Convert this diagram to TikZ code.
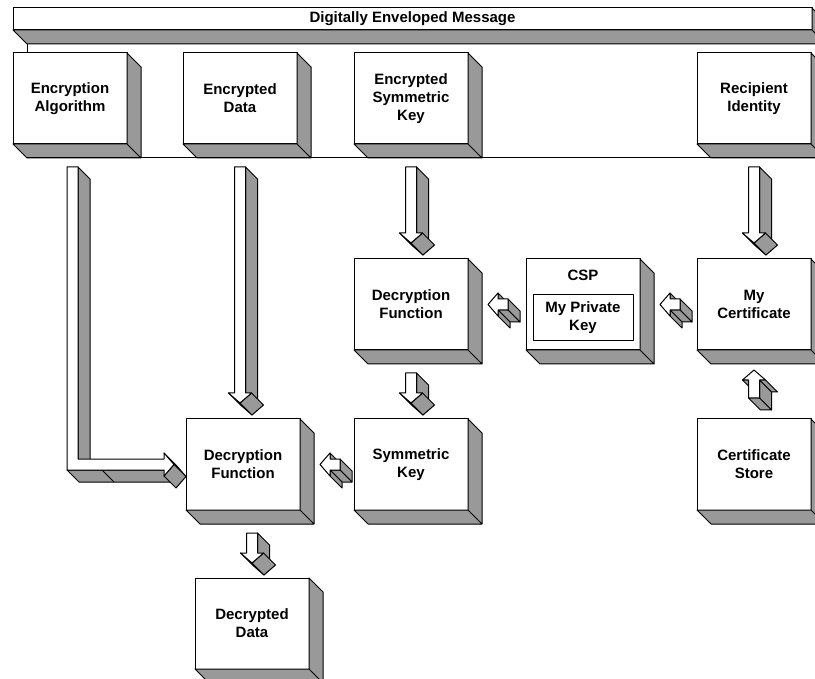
\documentclass[tikz,border=0pt]{standalone}
\usepackage{fontspec}
\setmainfont{Liberation Sans}
\definecolor{shade}{RGB}{153,153,153}
\begin{document}
\begin{tikzpicture}[x=1pt,y=-1pt,line width=1pt,
 frontface/.style={fill=white,draw=black,line join=round},
 sideface/.style={fill=shade,draw=black,line join=round},
 block/.style={frontface,minimum width=114pt,minimum height=91pt,inner sep=0pt,outer sep=0pt,
   align=center,font=\bfseries\fontsize{15}{18}\selectfont},
 pics/dnarrow/.style={code={
   \path[sideface] (5.5,0) -- (5.5,#1) -- (17.5,{#1+12}) -- (17.5,12) -- cycle;
   \path[sideface] (-11.5,#1) -- (0,{#1+10}) -- (12,{#1+22}) -- (0.5,{#1+12}) -- cycle;
   \path[sideface] (0,{#1+10}) -- (11.5,#1) -- (23.5,{#1+12}) -- (12,{#1+22}) -- cycle;
   \path[frontface] (-5.5,0) -- (-5.5,#1) -- (-11.5,#1) -- (0,{#1+10}) -- (11.5,#1) -- (5.5,#1) -- (5.5,0) -- cycle;
 }},
 pics/uparrow/.style={code={
   \path[sideface] (-5.5,10) -- (-11.5,10) -- (0.5,22) -- (6.5,22) -- cycle;
   \path[sideface] (11.5,10) -- (5.5,10) -- (17.5,22) -- (23.5,22) -- cycle;
   \path[sideface] (5.5,10) -- (5.5,{#1+10}) -- (17.5,{#1+22}) -- (17.5,22) -- cycle;
   \path[sideface] (5.5,{#1+10}) -- (-5.5,{#1+10}) -- (6.5,{#1+22}) -- (17.5,{#1+22}) -- cycle;
   \path[frontface] (0,0) -- (11.5,10) -- (5.5,10) -- (5.5,{#1+10}) -- (-5.5,{#1+10}) -- (-5.5,10) -- (-11.5,10) -- cycle;
 }},
 pics/lfarrow/.style={code={
   \path[sideface] (10,-11.5) -- (10,-5.5) -- (22,6.5) -- (22,0.5) -- cycle;
   \path[sideface] (20,-5.5) -- (20,5.5) -- (32,17.5) -- (32,6.5) -- cycle;
   \path[sideface] (20,5.5) -- (10,5.5) -- (22,17.5) -- (32,17.5) -- cycle;
   \path[sideface] (10,5.5) -- (10,11.5) -- (22,23.5) -- (22,17.5) -- cycle;
   \path[frontface] (0,0) -- (10,-11.5) -- (10,-5.5) -- (20,-5.5) -- (20,5.5) -- (10,5.5) -- (10,11.5) -- cycle;
 }},
 pics/larrow/.style 2 args={code={
   \path[sideface] (11,{#1-5.5}) -- (11,0) -- (23,12) -- (23,{#1+6.5}) -- cycle;
   \path[sideface] (0,{#1+5.5}) -- (#2,{#1+5.5}) -- ({#2+12},{#1+17.5}) -- (12,{#1+17.5}) -- cycle;
   \draw (35,{#1+5.5}) -- (47,{#1+17.5});
   \path[sideface] ({#2+10},#1) -- (#2,{#1-11.5}) -- ({#2+12},{#1+0.5}) -- ({#2+22},{#1+12}) -- cycle;
   \path[sideface] (#2,{#1+11.5}) -- ({#2+10},#1) -- ({#2+22},{#1+12}) -- ({#2+12},{#1+23.5}) -- cycle;
   \path[frontface] (0,0) -- (0,{#1+5.5}) -- (#2,{#1+5.5}) -- (#2,{#1+11.5}) -- ({#2+10},#1) -- (#2,{#1-11.5})
     -- (#2,{#1-5.5}) -- (11,{#1-5.5}) -- (11,0) -- cycle;
 }}]
\useasboundingbox (0,0) rectangle (815,679);
\clip (0,0) rectangle (815,679);
\node[block,minimum width=799pt,minimum height=22pt] (msg) at (412.5,19) {Digitally Enveloped Message};
\node[block] (alg) at (70,98.5) {Encryption\\Algorithm};
\node[block] (edat) at (240,98.5) {Encrypted\\Data};
\node[block] (esk) at (411,98.5) {Encrypted\\Symmetric\\Key};
\node[block] (rid) at (754,98.5) {Recipient\\Identity};
\node[block] (dec1) at (411,304.5) {Decryption\\Function};
\node[block] (csp) at (583,304.5) {};
\node[block] (cert) at (754,304.5) {My\\Certificate};
\node[block] (dec2) at (243,464.5) {Decryption\\Function};
\node[block] (symkey) at (411,464.5) {Symmetric\\Key};
\node[block] (store) at (754,464.5) {Certificate\\Store};
\node[block] (ddata) at (252,623.5) {Decrypted\\Data};
\foreach \n in {msg,alg,edat,esk,rid,dec1,csp,cert,dec2,symkey,store,ddata}
  \path[sideface] (\n.north east) -- ++(14,14) |- ([shift={(14,14)}]\n.south west) -- (\n.south west)
    -- (\n.south east) -- cycle (\n.south east) -- ++(14,14);
\draw (27,44) -- (27,53) (27,158) -- (815,158);
\node[font=\bfseries\fontsize{15}{18}\selectfont] (csplbl) at ([yshift=-16pt]csp.north) {CSP};
\node[block,minimum width=100pt,minimum height=46pt] (pkey) at ([yshift=-13.5pt]csp.center) {My Private\\Key};
\pic at ([yshift=-23pt]esk.south) {dnarrow=66};
\pic at ([yshift=-23pt]rid.south) {dnarrow=66};
\pic at ([yshift=-23pt]edat.south) {dnarrow=226};
\pic at ([yshift=-23pt]dec1.south) {dnarrow=20};
\pic at ([yshift=-23pt]ddata.north |- dec2.south) {dnarrow=20};
\pic at ([xshift=20pt]dec1.east) {lfarrow};
\pic at ([xshift=20pt]csp.east) {lfarrow};
\pic at ([xshift=20pt]dec2.east) {lfarrow};
\pic at ([yshift=-20pt]cert.south) {uparrow=18};
\pic at ([shift={(-3,23)}]alg.south) {larrow={297.5}{97}};
\end{tikzpicture}
\end{document}
